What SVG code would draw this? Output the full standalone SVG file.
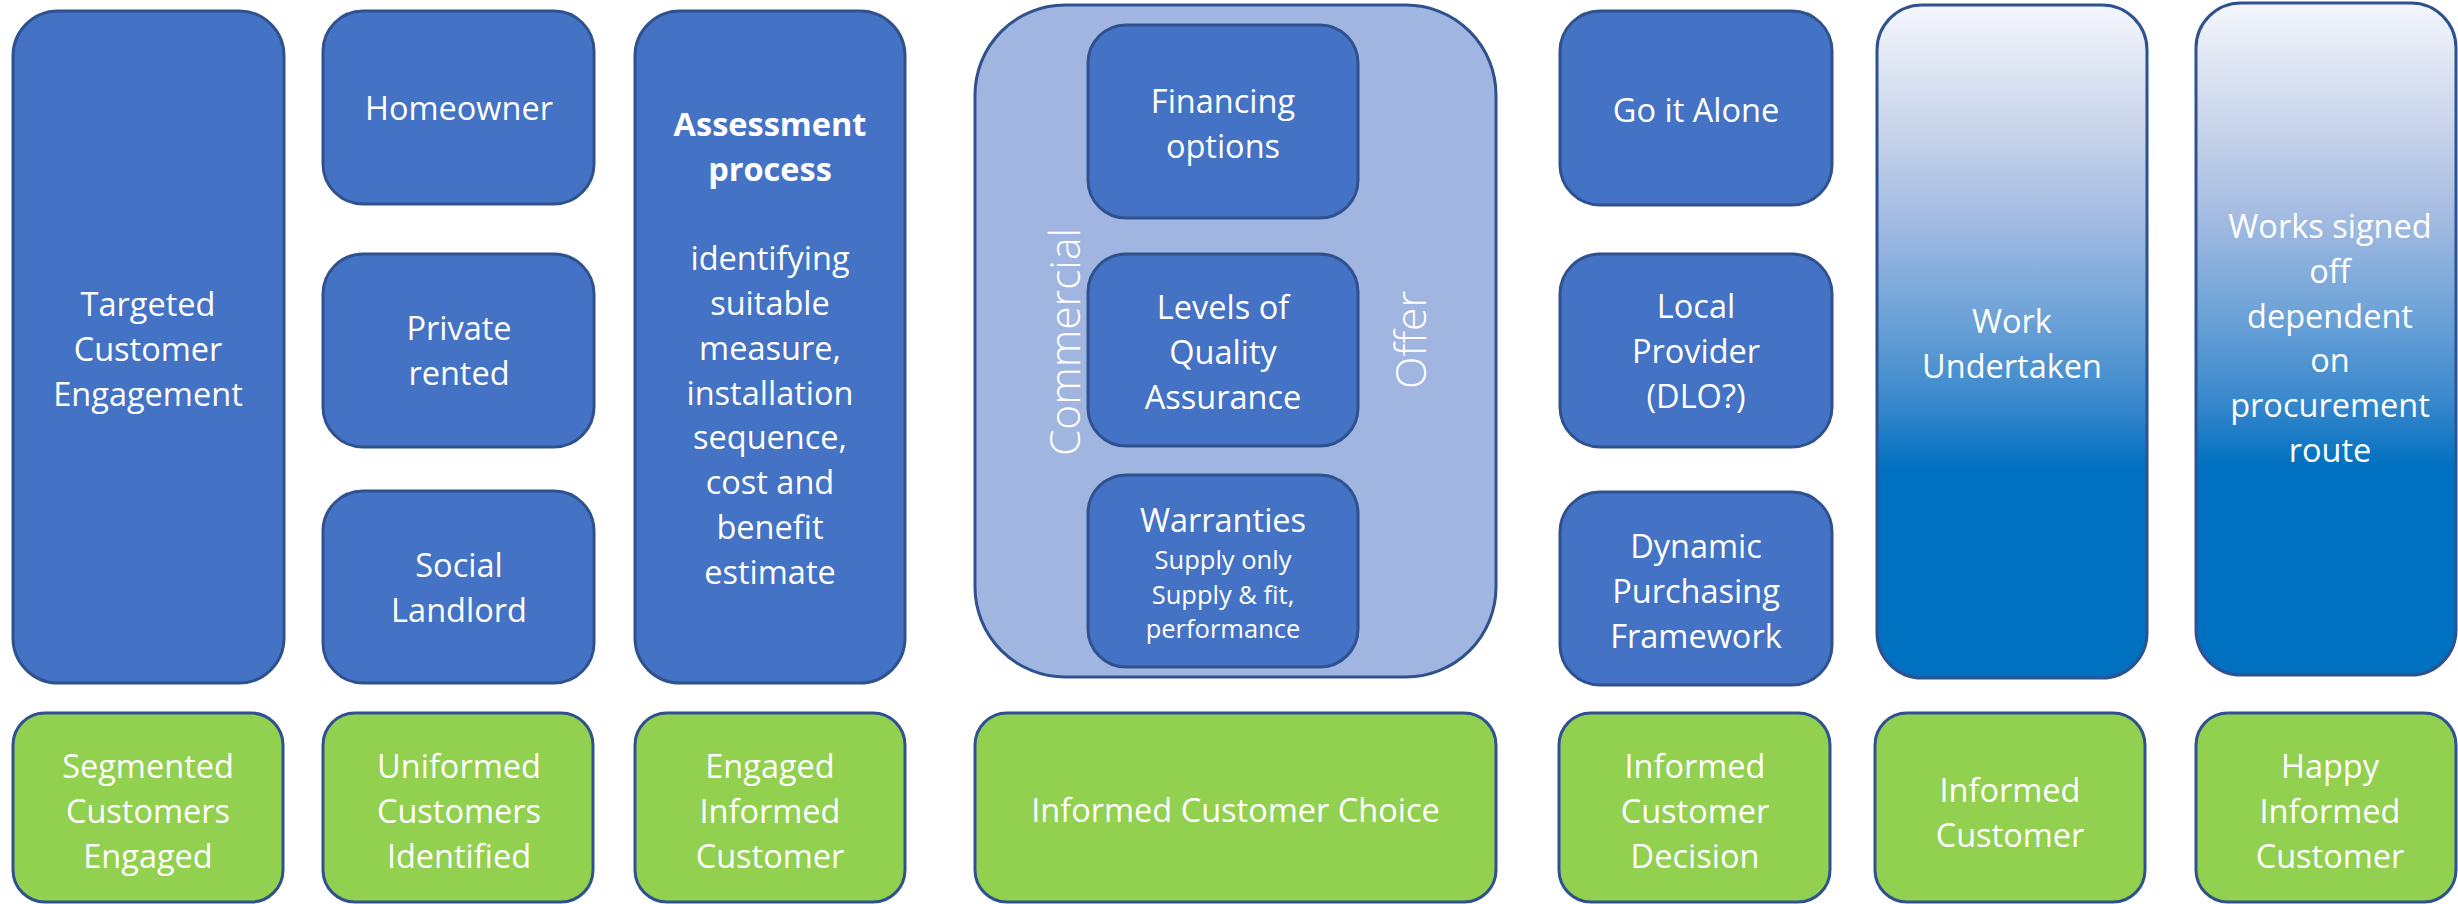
<svg xmlns="http://www.w3.org/2000/svg" width="2458" height="904" viewBox="0 0 2458 904">
  <style>
    .blue { fill: #4472c4; stroke: #2f528f; stroke-width: 3; }
    .green { fill: #92d050; stroke: #2f528f; stroke-width: 3; }
    .panel { fill: #a0b6e0; stroke: #2f528f; stroke-width: 3; }
    .grad { fill: url(#workGrad); stroke: #2f528f; stroke-width: 3; }
    text { font-family: "Open Sans", "Liberation Sans", sans-serif; fill: #ffffff; text-anchor: middle; font-size: 32.5px; }
    .bold { font-weight: 700; }
    .small { font-size: 25.5px; }
    .side { font-weight: 300; font-size: 42px; }
  </style>
  <defs>
    <linearGradient id="workGrad" x1="0" y1="0" x2="0" y2="1">
      <stop offset="0" stop-color="#f4f6fb"/>
      <stop offset="0.19" stop-color="#c7d3ea"/>
      <stop offset="0.32" stop-color="#a3bbe1"/>
      <stop offset="0.46" stop-color="#6ea3d8"/>
      <stop offset="0.59" stop-color="#3a88cc"/>
      <stop offset="0.69" stop-color="#0070c0"/>
      <stop offset="1" stop-color="#0070c0"/>
    </linearGradient>
  </defs>

  <!-- Column 1: engagement -->
  <g id="targeted-engagement">
    <rect class="blue" x="13" y="11" width="271" height="672" rx="45"/>
    <text x="148" y="316">Targeted</text>
    <text x="148" y="361">Customer</text>
    <text x="148" y="406">Engagement</text>
  </g>
  <g id="segmented-customers">
    <rect class="green" x="13" y="713" width="270" height="189" rx="32"/>
    <text x="148" y="778">Segmented</text>
    <text x="148" y="823">Customers</text>
    <text x="148" y="868">Engaged</text>
  </g>

  <!-- Column 2: customer types -->
  <g id="homeowner">
    <rect class="blue" x="323" y="11" width="271" height="193" rx="40"/>
    <text x="459" y="119.5">Homeowner</text>
  </g>
  <g id="private-rented">
    <rect class="blue" x="323" y="254" width="271" height="193" rx="40"/>
    <text x="459" y="340">Private</text>
    <text x="459" y="385">rented</text>
  </g>
  <g id="social-landlord">
    <rect class="blue" x="323" y="491" width="271" height="192" rx="40"/>
    <text x="459" y="577">Social</text>
    <text x="459" y="622">Landlord</text>
  </g>
  <g id="uniformed-customers">
    <rect class="green" x="323" y="713" width="270" height="189" rx="32"/>
    <text x="459" y="778">Uniformed</text>
    <text x="459" y="823">Customers</text>
    <text x="459" y="868">Identified</text>
  </g>

  <!-- Column 3: assessment -->
  <g id="assessment-process">
    <rect class="blue" x="635" y="11" width="270" height="672" rx="45"/>
    <text class="bold" x="770" y="135.5">Assessment</text>
    <text class="bold" x="770" y="180.5">process</text>
    <text x="770" y="270">identifying</text>
    <text x="770" y="315">suitable</text>
    <text x="770" y="359.5">measure,</text>
    <text x="770" y="404.5">installation</text>
    <text x="770" y="449">sequence,</text>
    <text x="770" y="494">cost and</text>
    <text x="770" y="539">benefit</text>
    <text x="770" y="584">estimate</text>
  </g>
  <g id="engaged-informed">
    <rect class="green" x="635" y="713" width="270" height="189" rx="32"/>
    <text x="770" y="778">Engaged</text>
    <text x="770" y="823">Informed</text>
    <text x="770" y="868">Customer</text>
  </g>

  <!-- Column 4: commercial offer panel -->
  <g id="commercial-offer">
    <rect class="panel" x="975" y="5" width="521" height="672" rx="90"/>
    <text class="side" transform="translate(1080 342) rotate(-90)" textLength="228" lengthAdjust="spacingAndGlyphs">Commercial</text>
    <text class="side" transform="translate(1426 340) rotate(-90)" textLength="98" lengthAdjust="spacingAndGlyphs">Offer</text>
  </g>
  <g id="financing-options">
    <rect class="blue" x="1088" y="25" width="270" height="193" rx="38"/>
    <text x="1223" y="113">Financing</text>
    <text x="1223" y="158">options</text>
  </g>
  <g id="quality-assurance">
    <rect class="blue" x="1088" y="254" width="270" height="192" rx="38"/>
    <text x="1223" y="319">Levels of</text>
    <text x="1223" y="364">Quality</text>
    <text x="1223" y="409">Assurance</text>
  </g>
  <g id="warranties">
    <rect class="blue" x="1088" y="475" width="270" height="192" rx="38"/>
    <text x="1223" y="531.5">Warranties</text>
    <text class="small" x="1223" y="569">Supply only</text>
    <text class="small" x="1223" y="604">Supply &amp; fit,</text>
    <text class="small" x="1223" y="638">performance</text>
  </g>
  <g id="informed-choice">
    <rect class="green" x="975" y="713" width="521" height="189" rx="32"/>
    <text x="1235.5" y="822">Informed Customer Choice</text>
  </g>

  <!-- Column 5: procurement routes -->
  <g id="go-it-alone">
    <rect class="blue" x="1560" y="11" width="272" height="194" rx="40"/>
    <text x="1696" y="122">Go it Alone</text>
  </g>
  <g id="local-provider">
    <rect class="blue" x="1560" y="254" width="272" height="193" rx="40"/>
    <text x="1696" y="318">Local</text>
    <text x="1696" y="363">Provider</text>
    <text x="1696" y="408">(DLO?)</text>
  </g>
  <g id="dynamic-purchasing">
    <rect class="blue" x="1560" y="492" width="272" height="193" rx="40"/>
    <text x="1696" y="558">Dynamic</text>
    <text x="1696" y="603">Purchasing</text>
    <text x="1696" y="648">Framework</text>
  </g>
  <g id="informed-decision">
    <rect class="green" x="1559" y="713" width="271" height="189" rx="32"/>
    <text x="1695" y="778">Informed</text>
    <text x="1695" y="823">Customer</text>
    <text x="1695" y="868">Decision</text>
  </g>

  <!-- Column 6: works -->
  <g id="work-undertaken">
    <rect class="grad" x="1877" y="5" width="270" height="673" rx="45"/>
    <text x="2012" y="333">Work</text>
    <text x="2012" y="378">Undertaken</text>
  </g>
  <g id="informed-customer">
    <rect class="green" x="1875" y="713" width="270" height="189" rx="32"/>
    <text x="2010" y="801.5">Informed</text>
    <text x="2010" y="846.5">Customer</text>
  </g>

  <!-- Column 7: sign-off -->
  <g id="works-signed-off">
    <rect class="grad" x="2196" y="3" width="260" height="672" rx="45"/>
    <text x="2330" y="237.5">Works signed</text>
    <text x="2330" y="282.5">off</text>
    <text x="2330" y="327.5">dependent</text>
    <text x="2330" y="372">on</text>
    <text x="2330" y="417">procurement</text>
    <text x="2330" y="461.5">route</text>
  </g>
  <g id="happy-customer">
    <rect class="green" x="2196" y="713" width="260" height="189" rx="32"/>
    <text x="2330" y="778">Happy</text>
    <text x="2330" y="823">Informed</text>
    <text x="2330" y="868">Customer</text>
  </g>
</svg>
